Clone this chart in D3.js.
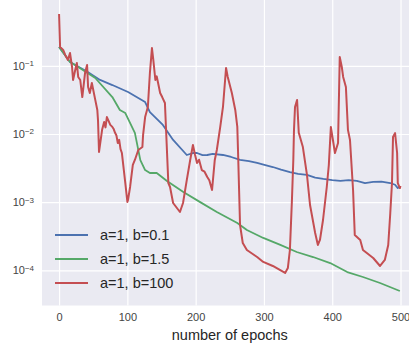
<!DOCTYPE html>
<html>
<head>
<meta charset="utf-8">
<script src="https://cdn.jsdelivr.net/npm/d3@7"></script>
<style>
  body { margin: 0; background: #fff; }
  svg { display: block; font-family: "Liberation Sans", Arial, sans-serif; }
</style>
</head>
<body>
<div id="chart"></div>
<script>
// series: epochs and loss values
const blueEpochs = [0, 16, 42, 60, 78, 101, 126, 133, 152, 167, 187, 197, 202, 210, 217, 225, 240, 252, 265, 278, 290, 302, 313, 325, 338, 350, 363, 375, 387, 400, 412, 424, 436, 448, 460, 472, 485, 492, 496, 500];
const blueLoss = [0.189, 0.114, 0.0811, 0.062, 0.0522, 0.0413, 0.0294, 0.021, 0.0136, 0.00817, 0.00492, 0.0053, 0.00526, 0.0049, 0.00492, 0.0051, 0.00492, 0.0046, 0.00416, 0.0040, 0.00376, 0.0035, 0.00328, 0.0030, 0.00277, 0.0026, 0.00251, 0.0023, 0.00219, 0.0021, 0.00205, 0.0021, 0.00205, 0.0019, 0.00198, 0.0020, 0.00191, 0.0018, 0.00161, 0.0017];

const greenEpochs = [0, 16, 28, 53, 78, 89, 97, 111, 119, 126, 133, 143, 158, 182, 206, 231, 261, 275, 299, 324, 348, 372, 397, 422, 445, 470, 499];
const greenLoss = [0.189, 0.114, 0.096, 0.0662, 0.0348, 0.0225, 0.0203, 0.0104, 0.00414, 0.00296, 0.00268, 0.00268, 0.00205, 0.00141, 0.00101, 0.000718, 0.000495, 0.000391, 0.000299, 0.000236, 0.000186, 0.000157, 0.000128, 0.0000946, 0.00008, 0.0000653, 0.0000499];

const redEpochs = [0, 1.5, 6, 9, 13, 16, 19, 20.5, 23, 26, 28, 31, 34, 38, 41, 42.5, 45, 48, 53, 56, 57, 58.5, 63, 66, 68, 70, 72, 75, 78, 80, 82, 84, 86, 88, 90, 92, 97, 100, 101, 104, 108, 111, 116, 122, 123, 126, 130, 133, 136, 138, 141, 143, 145, 148, 151, 155, 160, 162.5, 167, 177, 181.5, 187, 192, 196, 199, 202, 205, 209, 213, 217, 220, 224, 228, 231, 236, 240, 244.5, 247, 253, 258, 261, 262, 265, 269, 275, 290, 299, 313, 331, 335, 338, 341, 343, 344, 345.5, 348.5, 351, 357, 363, 367.5, 375, 379, 382, 386.5, 392, 395, 398, 401, 404, 408.5, 411, 414, 416, 420, 423, 426, 430.5, 433, 441, 445, 460, 470, 477, 482, 485, 487.5, 489, 492, 495, 496, 499, 500];
const redLoss = [0.575, 0.189, 0.171, 0.144, 0.122, 0.154, 0.096, 0.0619, 0.0811, 0.11, 0.0686, 0.0619, 0.0348, 0.0783, 0.103, 0.0489, 0.0399, 0.056, 0.0316, 0.0225, 0.016, 0.00545, 0.0115, 0.015, 0.0125, 0.0177, 0.016, 0.0136, 0.0127, 0.0118, 0.0104, 0.0095, 0.00738, 0.0082, 0.006, 0.00526, 0.00191, 0.00101, 0.00108, 0.00167, 0.00351, 0.00416, 0.00582, 0.00644, 0.00966, 0.0177, 0.0249, 0.0783, 0.182, 0.122, 0.0619, 0.07, 0.056, 0.04, 0.0348, 0.0285, 0.00191, 0.00167, 0.000973, 0.000718, 0.000973, 0.00211, 0.00416, 0.00689, 0.005, 0.00375, 0.0042, 0.00296, 0.0028, 0.00234, 0.0021, 0.00151, 0.00416, 0.00582, 0.0127, 0.0249, 0.0929, 0.0686, 0.0399, 0.0225, 0.0127, 0.00582, 0.000463, 0.000252, 0.000199, 0.000157, 0.000133, 0.000116, 0.0000916, 0.000108, 0.000199, 0.00108, 0.00415, 0.0115, 0.0249, 0.0316, 0.0104, 0.00644, 0.00251, 0.00091, 0.000353, 0.000236, 0.000279, 0.000548, 0.00167, 0.00351, 0.0127, 0.00817, 0.00526, 0.00738, 0.135, 0.096, 0.0686, 0.0489, 0.0115, 0.00817, 0.00151, 0.00033, 0.000279, 0.000199, 0.000152, 0.000116, 0.000142, 0.000236, 0.000695, 0.00191, 0.00902, 0.0103, 0.00526, 0.00191, 0.00161, 0.00173];

const seriesNames = ["a=1, b=0.1", "a=1, b=1.5", "a=1, b=100"];
const seriesColors = ["#4C72B0", "#55A868", "#C44E52"];
const xTicks = [0, 100, 200, 300, 400, 500];
const yTicks = [1e-4, 1e-3, 1e-2, 1e-1];
const yTickExp = ["\u22124", "\u22123", "\u22122", "\u22121"];

const width = 409, height = 350;
const plotLeft = 42, plotTop = 0, plotBottom = 305.5, plotRight = 417.6;

const svg = d3.select("#chart").append("svg")
  .attr("width", width)
  .attr("height", height);

const x = d3.scaleLinear().domain([-25, 525]).range([plotLeft, plotRight]);
const y = d3.scaleLog().domain([Math.pow(10, -4.515), Math.pow(10, -0.0352)]).range([plotBottom, plotTop]);

// background
svg.append("rect")
  .attr("x", plotLeft).attr("y", plotTop)
  .attr("width", plotRight - plotLeft).attr("height", plotBottom - plotTop)
  .attr("fill", "#EAEAF2");

// grid lines
const xGrid = svg.append("g")
  .attr("transform", `translate(0,${plotBottom})`)
  .call(d3.axisBottom(x).tickValues(xTicks).tickSize(-(plotBottom - plotTop)).tickFormat(""));
const yGrid = svg.append("g")
  .attr("transform", `translate(${plotLeft},0)`)
  .call(d3.axisLeft(y).tickValues(yTicks).tickSize(-(plotRight - plotLeft)).tickFormat(""));
[xGrid, yGrid].forEach(g => {
  g.select(".domain").remove();
  g.selectAll("line").attr("stroke", "#fff").attr("stroke-width", 1.2);
});

// tick labels
const xAxis = svg.append("g")
  .attr("transform", `translate(0,${plotBottom})`)
  .call(d3.axisBottom(x).tickValues(xTicks).tickSize(0).tickPadding(8));
xAxis.select(".domain").remove();
xAxis.selectAll("text")
  .attr("font-size", 11)
  .attr("fill", "#444")
  .style("font-family", "Liberation Sans, Arial, sans-serif");

const yAxis = svg.append("g")
  .attr("transform", `translate(${plotLeft},0)`)
  .call(d3.axisLeft(y).tickValues(yTicks).tickSize(0).tickPadding(8).tickFormat(""));
yAxis.select(".domain").remove();
yAxis.selectAll(".tick text").each(function(d) {
  const t = d3.select(this)
    .attr("font-size", 11)
    .attr("fill", "#444")
    .attr("dy", "0.32em")
    .style("font-family", "Liberation Sans, Arial, sans-serif");
  t.append("tspan").text("10");
  t.append("tspan").attr("dy", "-0.45em").attr("font-size", 8).text(yTickExp[yTicks.indexOf(d)]);
});

// lines
svg.append("clipPath").attr("id", "clip")
  .append("rect").attr("x", plotLeft).attr("y", plotTop)
  .attr("width", plotRight - plotLeft).attr("height", plotBottom - plotTop);

const line = d3.line().x(d => x(d[0])).y(d => y(d[1]));
const series = [
  blueEpochs.map((e, i) => [e, blueLoss[i]]),
  greenEpochs.map((e, i) => [e, greenLoss[i]]),
  redEpochs.map((e, i) => [e, redLoss[i]])
];

const plot = svg.append("g").attr("clip-path", "url(#clip)");
series.forEach((s, i) => {
  plot.append("path")
    .datum(s)
    .attr("d", line)
    .attr("fill", "none")
    .attr("stroke", seriesColors[i])
    .attr("stroke-width", i === 2 ? 2 : 1.8)
    .attr("stroke-linejoin", "round");
});

// legend
const legend = svg.append("g").attr("transform", "translate(55,235)");
seriesNames.forEach((name, i) => {
  const row = legend.append("g").attr("transform", `translate(0,${i * 24})`);
  row.append("line")
    .attr("x1", 0).attr("x2", 33)
    .attr("stroke", seriesColors[i]).attr("stroke-width", 1.8);
  row.append("text")
    .attr("x", 45).attr("dy", "0.35em")
    .attr("font-size", 14.5).attr("fill", "#262626")
    .text(name);
});

// x label
svg.append("text")
  .attr("x", (plotLeft + plotRight) / 2)
  .attr("y", 340)
  .attr("text-anchor", "middle")
  .attr("font-size", 14.5)
  .attr("fill", "#262626")
  .text("number of epochs");
</script>
</body>
</html>
